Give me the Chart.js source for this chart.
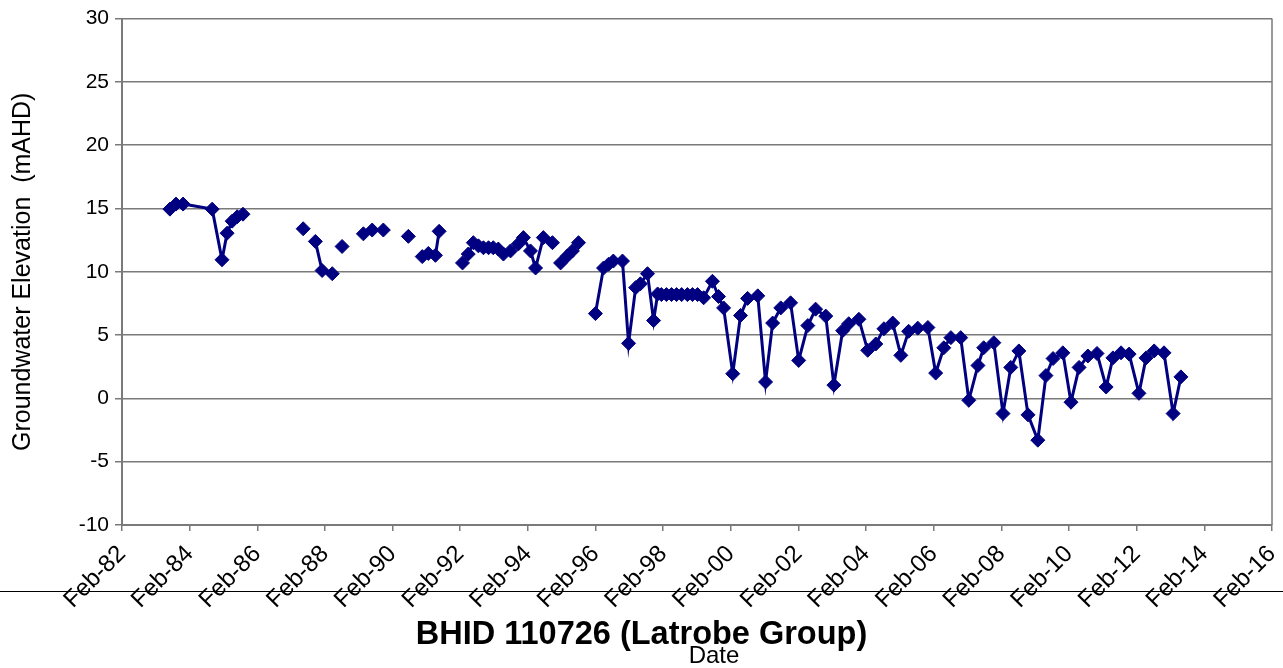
<!DOCTYPE html>
<html lang="en">

<head>
    <meta charset="UTF-8" />
    <title>BHID 110726 (Latrobe Group)</title>
    <script src="https://cdn.jsdelivr.net/npm/chart.js@4.4.1/dist/chart.umd.min.js"></script>
    <style>
        body {
            margin: 0;
            background: #fff;
        }

        #wrap {
            position: relative;
            width: 1283px;
            height: 668px;
            overflow: hidden;
        }

        #rule {
            position: absolute;
            left: 0;
            top: 591px;
            width: 1283px;
            height: 0;
            border-top: 1px solid #000;
        }

        #title {
            position: absolute;
            left: 0;
            top: 613px;
            width: 1283px;
            text-align: center;
            font: bold 32.5px "Liberation Sans", Arial, sans-serif;
            line-height: 40px;
            color: #000;
        }

        #xtitle {
            position: absolute;
            left: 614px;
            top: 643px;
            width: 200px;
            text-align: center;
            font: 24px "Liberation Sans", Arial, sans-serif;
            line-height: 24px;
            color: #000;
        }
    </style>
</head>

<body>
    <div id="wrap">
        <canvas id="chart" width="1283" height="668"></canvas>
        <div id="rule"></div>
        <div id="title">BHID 110726 (Latrobe Group)</div>
        <div id="xtitle">Date</div>
    </div>

    <script>
        // sample dates as decimal years, null elevation = gap in the record
        const years = [
            1983.50, 1983.68, 1983.89, 1984.75, 1985.04, 1985.19, 1985.34, 1985.49, 1985.66, 1986.5,
            1987.44, 1987.6,
            1987.80, 1988.00, 1988.30, 1988.45,
            1988.59, 1988.9,
            1989.22, 1989.35,
            1989.48, 1989.65,
            1989.81, 1990.2,
            1990.55, 1990.8,
            1990.96, 1991.05,
            1991.14, 1991.25,
            1991.35, 1991.46, 1991.8,
            1992.15, 1992.32, 1992.47, 1992.62, 1992.77, 1992.92, 1993.06, 1993.21, 1993.36, 1993.57,
            1993.80, 1993.95, 1994.16, 1994.31, 1994.54, 1994.81, 1994.93,
            1995.05, 1995.25, 1995.40, 1995.58, 1995.8,
            1996.08, 1996.32, 1996.47, 1996.61, 1996.88, 1997.06, 1997.27, 1997.41, 1997.62, 1997.80,
            1997.92, 1998.03, 1998.18, 1998.33, 1998.48, 1998.63, 1998.80, 1998.95, 1999.10, 1999.28,
            1999.54, 1999.72, 1999.87, 2000.14, 2000.37, 2000.58, 2000.88, 2001.11, 2001.32, 2001.56,
            2001.85, 2002.09, 2002.36, 2002.59, 2002.89, 2003.13, 2003.39, 2003.57, 2003.87, 2004.13,
            2004.37, 2004.61, 2004.87, 2005.11, 2005.34, 2005.61, 2005.91, 2006.14, 2006.38, 2006.59,
            2006.88, 2007.12, 2007.39, 2007.56, 2007.86, 2008.13, 2008.36, 2008.60, 2008.87, 2009.16,
            2009.40, 2009.61, 2009.90, 2010.14, 2010.38, 2010.64, 2010.91, 2011.18, 2011.38, 2011.62,
            2011.86, 2012.15, 2012.36, 2012.60, 2012.89, 2013.16, 2013.39
        ];
        const elevation = [
            14.95, 15.35, 15.35, 14.95, 10.95, 13.05, 14.0, 14.35, 14.55, null,
            13.4, null,
            12.4, 10.1, 9.85, null,
            12.0, null,
            13.0, null,
            13.3, null,
            13.3, null,
            12.8, null,
            11.2, null,
            11.45, null,
            11.3, 13.2, null,
            10.7, 11.4, 12.3, 12.05, 11.9, 11.9, 11.9, 11.8, 11.4, 11.65,
            12.2, 12.7, 11.65, 10.3, 12.7, 12.3, null,
            10.7, 11.25, 11.65, 12.3, null,
            6.7, 10.3, 10.6, 10.85, 10.85, 4.35, 8.75, 9.05, 9.85, 6.15,
            8.25, 8.2, 8.2, 8.2, 8.2, 8.2, 8.2, 8.2, 8.2, 7.95,
            9.25, 8.05, 7.15, 1.95, 6.55, 7.9, 8.1, 1.3, 5.95, 7.15,
            7.55, 3.0, 5.75, 7.05, 6.5, 1.05, 5.35, 5.9, 6.25, 3.8,
            4.3, 5.5, 5.95, 3.4, 5.3, 5.55, 5.6, 2.0, 4.0, 4.8,
            4.8, -0.15, 2.6, 4.0, 4.4, -1.2, 2.45, 3.75, -1.3, -3.3,
            1.8, 3.15, 3.6, -0.3, 2.45, 3.35, 3.55, 0.9, 3.2, 3.6,
            3.5, 0.4, 3.2, 3.75, 3.6, -1.2, 1.7
        ];
        // x ticks fall on February every second year
        const tickYears = [1982, 1984, 1986, 1988, 1990, 1992, 1994, 1996, 1998, 2000, 2002, 2004, 2006, 2008, 2010, 2012, 2014, 2016];
        const FEB = 1 / 12;

        const points = years.map((yr, i) => ({ x: yr, y: elevation[i] }));
        const font = 'Liberation Sans, Arial, sans-serif';
        const axisGrey = '#7a7a7a';

        // right hand edge of the plot area
        const plotBorder = {
            id: 'plotBorder',
            beforeDatasetsDraw(chart) {
                const { ctx, chartArea } = chart;
                ctx.save();
                ctx.strokeStyle = axisGrey;
                ctx.lineWidth = 1.5;
                ctx.beginPath();
                ctx.moveTo(chartArea.right, chartArea.top);
                ctx.lineTo(chartArea.right, chartArea.bottom);
                ctx.stroke();
                ctx.restore();
            }
        };

        const ctx = document.getElementById('chart').getContext('2d');
        const myChart = new Chart(ctx, {
            type: 'line',
            data: {
                datasets: [{
                    label: 'Groundwater Elevation',
                    data: points,
                    borderColor: '#000080',
                    backgroundColor: '#000080',
                    borderWidth: 3,
                    pointStyle: 'rectRot',
                    pointRadius: 7,
                    pointBorderWidth: 1,
                    pointBackgroundColor: '#000080',
                    pointBorderColor: '#000080',
                    spanGaps: false,
                    tension: 0
                }]
            },
            options: {
                responsive: false,
                animation: false,
                devicePixelRatio: 1,
                layout: { padding: { top: 17, right: 11, bottom: 0, left: 0 } },
                plugins: {
                    legend: { display: false },
                    tooltip: { enabled: false }
                },
                scales: {
                    x: {
                        type: 'linear',
                        min: tickYears[0] + FEB,
                        max: tickYears[tickYears.length - 1] + FEB,
                        afterBuildTicks: (scale) => {
                            scale.ticks = tickYears.map(y => ({ value: y + FEB }));
                        },
                        afterFit: (scale) => {
                            scale.height = 143;
                            scale.paddingLeft = 0;
                            scale.paddingRight = 0;
                        },
                        grid: { drawOnChartArea: false, tickLength: 6, color: axisGrey, lineWidth: 1.5 },
                        border: { color: axisGrey, width: 2 },
                        ticks: {
                            autoSkip: false,
                            maxRotation: 45,
                            minRotation: 45,
                            padding: 9,
                            color: '#000',
                            font: { family: font, size: 24 },
                            callback: (v) => 'Feb-' + String(Math.round(v - FEB) % 100).padStart(2, '0')
                        }
                    },
                    y: {
                        min: -10,
                        max: 30,
                        afterFit: (scale) => { scale.width = 122; },
                        grid: { color: axisGrey, lineWidth: 1.5, tickLength: 7 },
                        border: { color: axisGrey, width: 2 },
                        ticks: {
                            stepSize: 5,
                            padding: 6,
                            color: '#000',
                            font: { family: font, size: 21 }
                        },
                        title: {
                            display: true,
                            text: 'Groundwater Elevation  (mAHD)',
                            color: '#000',
                            font: { family: font, size: 25 },
                            padding: { top: 8, bottom: 0 }
                        }
                    }
                }
            },
            plugins: [plotBorder]
        });
    </script>
</body>

</html>
